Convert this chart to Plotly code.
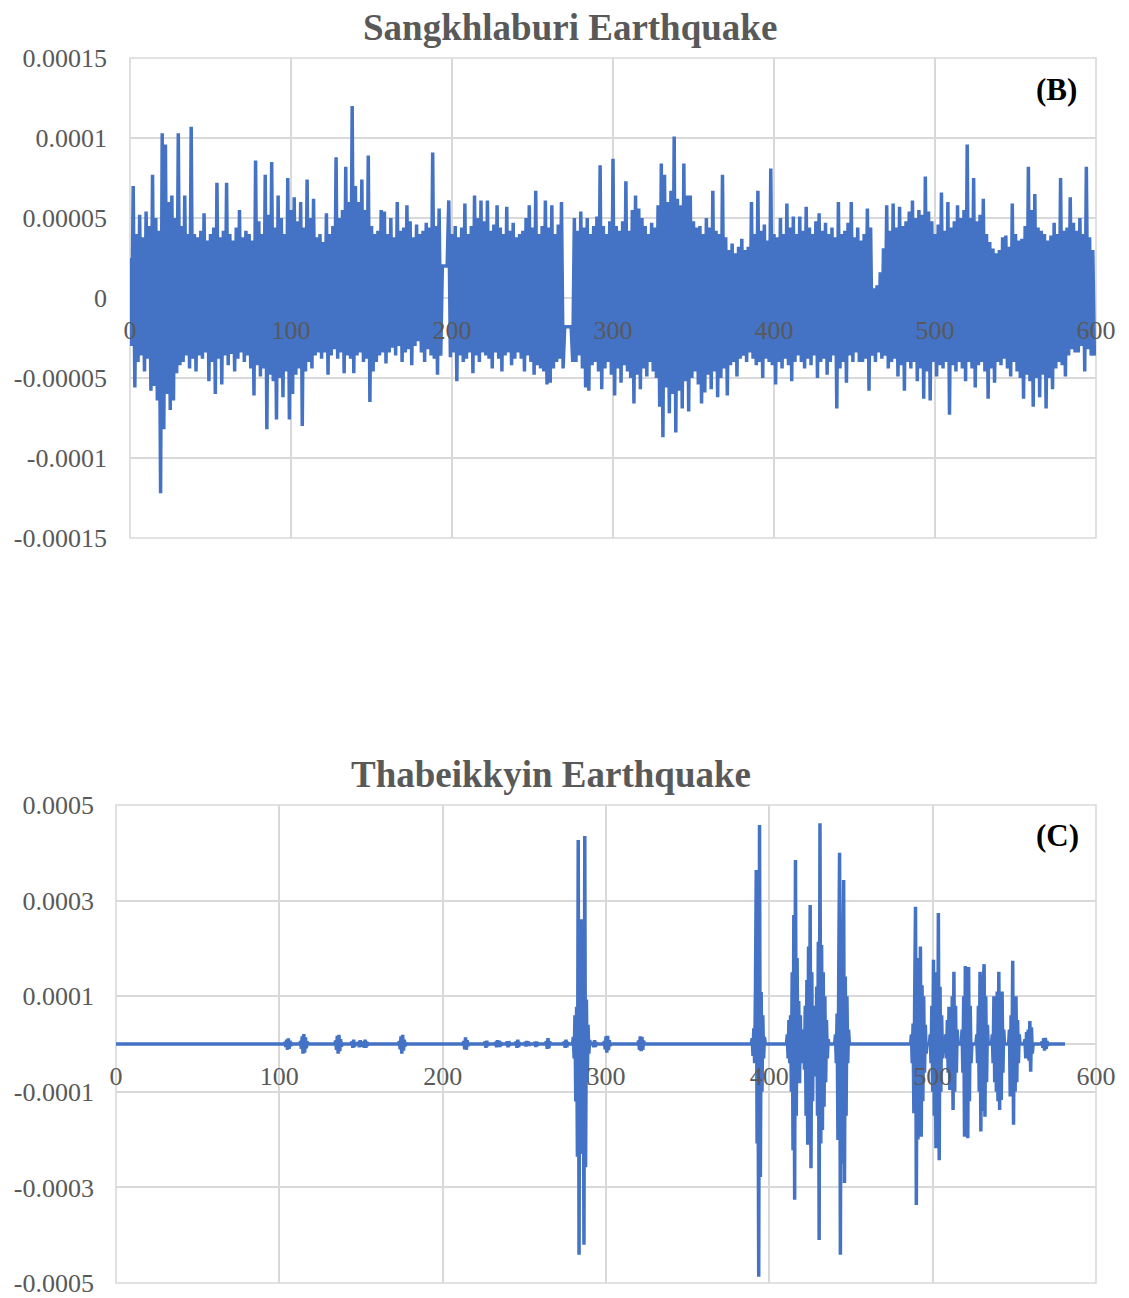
import plotly.graph_objects as go

SCALE = 1e-6  # values below are in millionths

# ---------------- Sangkhlaburi (B): positive peaks at even seconds, negative at odd seconds
sang_pos = [
    25, 70, 40, 52, 38, 54, 45, 77, 50, 42,
    103, 96, 60, 64, 50, 103, 45, 64, 40, 107,
    40, 38, 42, 53, 36, 40, 44, 72, 38, 42,
    72, 40, 36, 44, 55, 38, 42, 40, 36, 86,
    48, 40, 77, 52, 85, 44, 64, 50, 40, 75,
    55, 63, 48, 60, 44, 74, 50, 62, 38, 40,
    35, 53, 40, 45, 88, 50, 55, 82, 60, 120,
    70, 60, 74, 55, 89, 45, 40, 42, 55, 54,
    40, 50, 38, 60, 42, 44, 58, 48, 38, 46,
    40, 42, 47, 44, 91, 45, 56, 20, 20, 61,
    40, 45, 38, 44, 59, 40, 45, 64, 50, 61,
    48, 61, 42, 46, 58, 44, 40, 57, 42, 47,
    38, 40, 42, 50, 58, 44, 67, 40, 45, 61,
    44, 58, 40, 46, 60, -18, -18, -18, 50, 42,
    54, 44, 50, 40, 45, 51, 83, 45, 40, 48,
    87, 45, 42, 48, 73, 42, 55, 64, 56, 50,
    45, 40, 47, 44, 58, 84, 77, 60, 67, 101,
    62, 58, 84, 64, 64, 48, 44, 45, 40, 50,
    44, 67, 42, 40, 77, 38, 30, 34, 28, 32,
    37, 30, 32, 60, 40, 67, 42, 46, 36, 81,
    40, 38, 50, 40, 59, 44, 51, 40, 51, 42,
    57, 44, 40, 48, 53, 42, 47, 40, 44, 38,
    60, 40, 42, 47, 60, 38, 44, 36, 40, 56,
    44, 6, 8, 16, 31, 58, 42, 59, 44, 57,
    45, 48, 54, 61, 50, 55, 52, 76, 54, 48,
    40, 46, 66, 42, 60, 44, 48, 58, 50, 55,
    96, 50, 75, 48, 52, 62, 40, 35, 31, 28,
    30, 38, 39, 32, 59, 40, 36, 37, 45, 82,
    55, 65, 44, 42, 40, 36, 39, 47, 40, 75,
    42, 44, 63, 47, 42, 50, 40, 82, 38, 30,
]
sang_neg = [
    -30, -56, -40, -36, -46, -38, -58, -55, -64, -122,
    -82, -60, -70, -64, -47, -42, -40, -36, -44, -38,
    -46, -36, -38, -34, -52, -40, -60, -38, -54, -36,
    -42, -35, -46, -38, -34, -40, -36, -44, -61, -42,
    -49, -44, -82, -48, -52, -76, -50, -62, -46, -76,
    -60, -48, -44, -80, -46, -40, -44, -36, -34, -38,
    -34, -48, -36, -32, -38, -34, -47, -36, -38, -47,
    -36, -34, -40, -38, -65, -46, -40, -36, -34, -41,
    -34, -31, -36, -30, -40, -34, -32, -42, -30, -27,
    -34, -40, -32, -36, -38, -48, -36, 20, 20, -37,
    -34, -52, -36, -40, -38, -34, -47, -36, -40, -34,
    -36, -38, -44, -34, -38, -46, -36, -34, -42, -38,
    -34, -38, -46, -36, -40, -48, -42, -44, -46, -54,
    -53, -44, -40, -38, -44, -18, -18, -40, -40, -36,
    -44, -56, -58, -42, -40, -46, -57, -44, -40, -48,
    -61, -44, -53, -42, -46, -50, -66, -48, -57, -44,
    -49, -40, -46, -50, -68, -87, -56, -72, -60, -84,
    -58, -69, -52, -71, -50, -46, -54, -66, -59, -48,
    -57, -46, -62, -50, -44, -61, -42, -40, -49, -38,
    -36, -40, -34, -38, -42, -40, -50, -38, -40, -42,
    -54, -40, -44, -38, -42, -52, -40, -36, -40, -44,
    -38, -42, -36, -50, -40, -38, -48, -40, -36, -69,
    -44, -40, -53, -36, -40, -34, -40, -40, -38, -58,
    -36, -40, -34, -38, -36, -44, -40, -38, -49, -42,
    -58, -40, -44, -40, -52, -44, -63, -46, -64, -40,
    -49, -42, -44, -40, -73, -42, -46, -40, -44, -52,
    -40, -44, -56, -42, -40, -46, -63, -44, -53, -40,
    -42, -38, -44, -49, -40, -46, -50, -63, -48, -52,
    -68, -50, -62, -48, -69, -50, -57, -44, -40, -42,
    -49, -36, -32, -34, -34, -30, -46, -32, -36, -36,
]
sang_step = 1.0

# ---------------- Thabeikkyin (C): bursts (start time, samples every 0.5 s), flat zero elsewhere
thab_start = [103, 112.5, 134, 144, 148, 151, 173, 212.5, 225.5, 232, 239, 244.5, 250, 256,
              263, 274, 279.5, 291.5, 298.5, 319.5, 389, 410.5, 440, 486.5, 498, 507.5,
              517.5, 526.5, 536, 546.5, 556, 566.5]
thab_vals = [
    [0, 4, -6, 9, -12, 12, -10, 7, -4, 2, 0],
    [0, 6, -10, 16, -20, 21, -18, 14, -9, 5, 0],
    [0, 7, -12, 17, -20, 19, -15, 10, -5, 0],
    [0, 5, -8, 9, -6, 3, 0],
    [0, 4, -7, 8, -5, 0],
    [0, 5, -8, 9, -8, 5, -3, 0],
    [0, 6, -11, 16, -20, 19, -14, 9, -5, 2, 0],
    [0, 6, -11, 14, -12, 8, -4, 0],
    [0, 5, -8, 7, -4, 0],
    [0, 4, -7, 8, -6, 7, -6, 4, -2, 0],
    [0, 5, -7, 6, -3, 0],
    [0, 5, -8, 9, -6, 3, 0],
    [0, 4, -5, 6, -4, 5, -3, 0],
    [0, 4, -6, 5, -3, 0],
    [0, 6, -10, 12, -9, 5, 0],
    [0, 5, -8, 9, -7, 4, 0],
    [0, 15, -30, 60, -120, 78, -236, 427, -441, 250, -230, 261, -225, 200, -420, 435,
     -258, 93, -80, 40, -20, 8, 0],
    [0, 4, -7, 8, -6, 3, 0],
    [0, 6, -11, 16, -18, 17, -13, 8, -4, 0],
    [0, 7, -12, 16, -15, 15, -12, 7, 0],
    [0, 12, -25, 33, -40, 109, 364, -208, 100, -487, 458, -278, 109, -100, 60, -30, 15, 0],
    [0, 20, -30, 50, -40, 60, -100, 150, -222, 270, -326, 385, -150, 180, -82, 90, -82, 60,
     -40, 20, -15, 30, -54, 80, -150, 134, -211, 204, -180, 291, -260, 150, -120, 80, -60,
     40, -68, 120, -150, 214, -410, 462, -208, 207, -180, 150, -131, 100, -80, 50, -30, 10, 0],
    [0, 20, -40, 64, -201, 150, 400, -441, 200, -250, 180, 343, -291, 141, -150, 100, -40, 30, 0],
    [0, 20, -40, 43, -145, 100, 287, -337, 150, -200, 180, -150, 204, -194, 123, -120, 100,
     -60, 40, -20, 0],
    [0, 20, -40, 80, -100, 176, -150, 120, -218, 150, -180, 274, -243, 120, -100, 60, -30, 0],
    [0, 20, -30, 50, -60, 78, -96, 70, -80, 100, -138, 151, -100, 80, -60, 30, 0],
    [0, 30, -60, 100, -194, 163, -150, 140, -197, 161, -120, 80, -40, 0],
    [0, 20, -40, 80, -100, 151, -183, 120, -140, 130, 167, -152, 100, -80, 40, 0],
    [0, 20, -40, 100, -80, 90, -100, 110, -120, 151, -138, 100, -117, 110, -60, 30, 0],
    [0, 30, -110, 60, -80, 174, -169, 100, -100, 100, -80, 50, -40, 20, 0],
    [0, 10, -30, 25, -20, 30, -35, 48, -58, 35, -20, 0],
    [0, 5, -8, 12, -14, 13, -10, 6, -3, 0],
]
thab_step = 0.5
thab_end = 581

# ---------------- axes text
x_ticks = [0, 100, 200, 300, 400, 500, 600]
x_labels = ["0", "100", "200", "300", "400", "500", "600"]
top_yticks = [0.00015, 0.0001, 0.00005, 0, -0.00005, -0.0001, -0.00015]
top_ylabels = ["0.00015", "0.0001", "0.00005", "0", "-0.00005", "-0.0001", "-0.00015"]
bot_yticks = [0.0005, 0.0003, 0.0001, -0.0001, -0.0003, -0.0005]
bot_ylabels = ["0.0005", "0.0003", "0.0001", "-0.0001", "-0.0003", "-0.0005"]
title_top = "Sangkhlaburi Earthquake"
title_bot = "Thabeikkyin Earthquake"
tag_top = "(B)"
tag_bot = "(C)"

# ---------------- build series
sx, sy = [], []
for i, (p, n) in enumerate(zip(sang_pos, sang_neg)):
    sx += [2 * i * sang_step, (2 * i + 1) * sang_step]
    sy += [p * SCALE, n * SCALE]

bx, by = [0], [0]
for st, vals in zip(thab_start, thab_vals):
    for k, v in enumerate(vals):
        bx.append(st + k * thab_step)
        by.append(v * SCALE)
bx.append(thab_end)
by.append(0)

BLUE = "#4472C4"
GRID = "#d9d9d9"
TXT = "#595959"
FONT = "Liberation Serif"

W, H = 1129, 1298
def px_x(p): return p / W
def px_y(p): return 1 - p / H

fig = go.Figure()
fig.add_trace(go.Scatter(x=sx, y=sy, mode="lines", xaxis="x", yaxis="y",
                         line=dict(color=BLUE, width=3.5, simplify=False), showlegend=False))
fig.add_trace(go.Scatter(x=bx, y=by, mode="lines", xaxis="x2", yaxis="y2",
                         line=dict(color=BLUE, width=3.5, simplify=False), showlegend=False))

tickfont = dict(family=FONT, size=26, color=TXT)
xcommon = dict(range=[0, 600], tickvals=x_ticks, ticktext=x_labels, showgrid=True,
               gridcolor=GRID, gridwidth=1.6, zeroline=False, showline=False, ticks="",
               tickfont=tickfont, anchor="free", automargin=False, ticklabelstandoff=14,
               ticklabeloverflow="allow")
eps_top = 1e-10
eps_bot = 1e-9
fig.update_layout(
    width=W, height=H, autosize=False,
    margin=dict(l=0, r=0, t=0, b=0),
    paper_bgcolor="white", plot_bgcolor="white",
    xaxis=dict(domain=[px_x(130), px_x(1096)], position=px_y(298), **xcommon),
    yaxis=dict(domain=[px_y(538), px_y(58)], range=[-0.00015 - eps_top, 0.00015 + eps_top],
               anchor="x", tickvals=top_yticks, ticktext=top_ylabels, showgrid=True,
               gridcolor=GRID, gridwidth=1.6, zeroline=False, showline=False, ticks="",
               tickfont=tickfont, automargin=False, ticklabelstandoff=22,
               ticklabeloverflow="allow"),
    xaxis2=dict(domain=[px_x(116), px_x(1096)], position=px_y(1044), **xcommon),
    yaxis2=dict(domain=[px_y(1283), px_y(805)], range=[-0.0005 - eps_bot, 0.0005 + eps_bot],
                anchor="x2", tickvals=bot_yticks, ticktext=bot_ylabels, showgrid=True,
                gridcolor=GRID, gridwidth=1.6, zeroline=True, zerolinecolor=GRID,
                zerolinewidth=1.6, showline=False, ticks="", tickfont=tickfont,
                automargin=False, ticklabelstandoff=21, ticklabeloverflow="allow"),
)

for xr, yr in (("x", "y"), ("x2", "y2")):
    fig.add_shape(type="rect", xref=f"{xr} domain", yref=f"{yr} domain", x0=0, x1=1, y0=0, y1=1,
                  line=dict(color=GRID, width=1.6), layer="below")

fig.add_annotation(text=f"<b>{title_top}</b>", xref="paper", yref="paper", x=px_x(570), y=px_y(28),
                   showarrow=False, font=dict(family=FONT, size=37, color=TXT),
                   xanchor="center", yanchor="middle")
fig.add_annotation(text=f"<b>{title_bot}</b>", xref="paper", yref="paper", x=px_x(551), y=px_y(775),
                   showarrow=False, font=dict(family=FONT, size=37, color=TXT),
                   xanchor="center", yanchor="middle")
fig.add_annotation(text=f"<b>{tag_top}</b>", xref="paper", yref="paper", x=px_x(1056), y=px_y(90),
                   showarrow=False, font=dict(family=FONT, size=31, color="black"),
                   xanchor="center", yanchor="middle")
fig.add_annotation(text=f"<b>{tag_bot}</b>", xref="paper", yref="paper", x=px_x(1057), y=px_y(835),
                   showarrow=False, font=dict(family=FONT, size=31, color="black"),
                   xanchor="center", yanchor="middle")

fig.write_html("out.html")
